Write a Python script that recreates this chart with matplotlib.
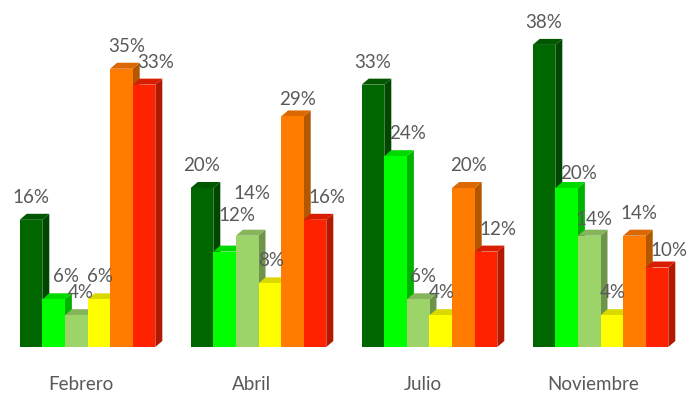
import numpy as np
import matplotlib

matplotlib.use("Agg")
import matplotlib.pyplot as plt
from matplotlib.patches import Polygon
from matplotlib.colors import to_rgb
from matplotlib.transforms import ScaledTranslation

plt.rcParams["font.family"] = ["Lato", "DejaVu Sans"]

months = ["Febrero", "Abril", "Julio", "Noviembre"]
s1 = [16, 20, 33, 38]   # verde oscuro
s2 = [6, 12, 24, 20]    # verde
s3 = [4, 14, 6, 14]     # verde claro
s4 = [6, 8, 4, 4]       # amarillo
s5 = [35, 29, 20, 14]   # naranja
s6 = [33, 16, 12, 10]   # rojo
series = [s1, s2, s3, s4, s5, s6]

colors = ["#006600", "#00ff00", "#9dd46a", "#ffff00", "#ff7c00", "#ff2200"]
label_nudge = [0, 12, 5, 1, 5, 12]   # px, horizontal shift of value labels per series
# extra vertical shift (px) for labels moved apart in the original, (group, series)
label_lift = {(1, 1): 14, (1, 2): 20, (1, 4): -6, (3, 1): -8, (3, 2): -6, (3, 5): -6}

W, H, DPI = 689, 396, 100
fig = plt.figure(figsize=(W / DPI, H / DPI), dpi=DPI)
ax = fig.add_axes([2 / W, 49 / H, 684 / W, 318 / H])
ax.set_xlim(-0.5, 3.5)
ax.set_ylim(0, 40)

# depth of the pseudo-3D bars, in pixels -> data units
depth_x_px, depth_y_px = 7, 6
ddx = depth_x_px / 684 * 4
ddy = depth_y_px / 318 * 40

x = np.arange(len(months))
bw = 22.6 / 171
n = len(series)


def shade(c, f):
    r, g, b = to_rgb(c)
    return (r * f, g * f, b * f)


for j, (vals, col) in enumerate(zip(series, colors)):
    xs = x + (j - (n - 1) / 2) * bw
    for i, (xc, v) in enumerate(zip(xs, vals)):
        xl, xr = xc - bw / 2, xc + bw / 2
        side = Polygon([(xr, 0), (xr + ddx, ddy), (xr + ddx, v + ddy), (xr, v)],
                       closed=True, facecolor=shade(col, 0.7), lw=0, zorder=2 * j + 1)
        top = Polygon([(xl, v), (xl + ddx, v + ddy), (xr + ddx, v + ddy), (xr, v)],
                      closed=True, facecolor=shade(col, 0.85), lw=0, zorder=2 * j + 1)
        ax.add_patch(side)
        ax.add_patch(top)
        lift = label_lift.get((i, j), 0)
        ax.annotate(f"{v}%", (xc, v), xytext=(label_nudge[j] * 0.72, (17 + lift) * 0.72),
                    textcoords="offset points", ha="center", va="baseline",
                    fontsize=13.5, color="#595959", annotation_clip=False, zorder=30)
    ax.bar(xs, vals, width=bw, color=col, lw=0, zorder=2 * j + 2)

ax.set_xticks(x)
ax.set_xticklabels(months, fontsize=13.5, color="#595959")
ax.tick_params(axis="x", length=0, pad=21)
for lbl in ax.get_xticklabels():
    lbl.set_transform(lbl.get_transform() + ScaledTranslation(-7 / DPI, 0, fig.dpi_scale_trans))
ax.set_yticks([])
for sp in ax.spines.values():
    sp.set_visible(False)

fig.savefig("out.png", dpi=DPI)
